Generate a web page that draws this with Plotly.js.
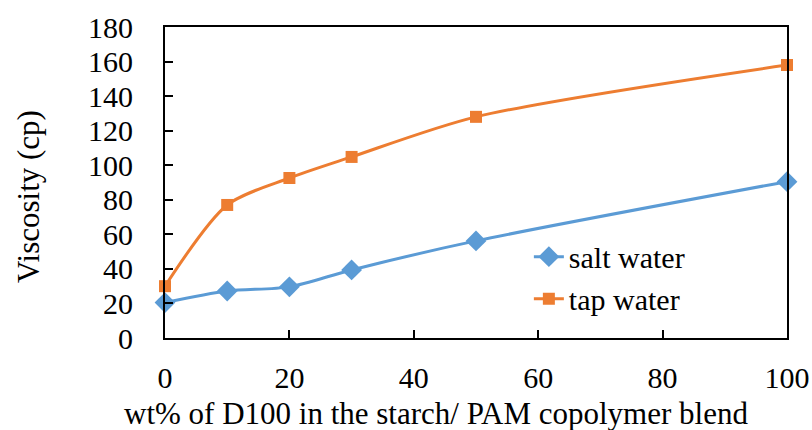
<!DOCTYPE html>
<html>
<head>
<meta charset="utf-8">
<script src="https://cdn.plot.ly/plotly-3.0.1.min.js"></script>
</head>
<body style="margin:0">
<div id="chart" style="width:812px;height:430px"></div>
<script>
const wtPercent = [0, 10, 20, 30, 50, 100];
const saltWater = [20.5, 27.2, 29.6, 39.4, 56.2, 90.5];
const tapWater = [30.0, 77.0, 92.6, 104.8, 128.0, 158.0];
const seriesNames = ["salt water", "tap water"];
const xTitle = "wt% of D100 in the starch/ PAM copolymer blend";
const yTitle = "Viscosity (cp)";

const traces = [
  {
    x: wtPercent, y: saltWater, name: seriesNames[0], type: "scatter", mode: "lines+markers",
    line: {color: "#5B9BD5", width: 3, shape: "spline", smoothing: 0.8},
    marker: {symbol: "diamond", size: 16, color: "#5B9BD5"},
    cliponaxis: false
  },
  {
    x: wtPercent, y: tapWater, name: seriesNames[1], type: "scatter", mode: "lines+markers",
    line: {color: "#ED7D31", width: 3, shape: "spline", smoothing: 0.8},
    marker: {symbol: "square", size: 12, color: "#ED7D31"},
    cliponaxis: false
  }
];

const layout = {
  width: 812, height: 430,
  margin: {l: 165, r: 25, t: 27, b: 92, pad: 0},
  font: {family: "Liberation Serif", size: 30, color: "#000000"},
  showlegend: true,
  legend: {x: 0.585, y: 0.345, xanchor: "left", yanchor: "top", bgcolor: "rgba(0,0,0,0)", tracegroupgap: 0},
  xaxis: {
    range: [0, 100], dtick: 20, tick0: 0, showgrid: false, zeroline: false,
    showline: true, linecolor: "#000000", linewidth: 2, mirror: true,
    ticks: "inside", ticklen: 8, tickwidth: 1.5, tickcolor: "#000000",
    ticklabelstandoff: 12
  },
  yaxis: {
    range: [0, 180], dtick: 20, tick0: 0, showgrid: false, zeroline: false,
    showline: true, linecolor: "#000000", linewidth: 2, mirror: true,
    ticks: "inside", ticklen: 8, tickwidth: 1.5, tickcolor: "#000000",
    ticklabelstandoff: 24
  },
  annotations: [
    {text: xTitle, xref: "paper", yref: "paper", x: (436 - 165) / 622, y: -(413 - 338) / 311,
     xanchor: "center", yanchor: "middle", showarrow: false, font: {size: 31}},
    {text: yTitle, xref: "paper", yref: "paper", x: -(165 - 28) / 622, y: (338 - 197) / 311,
     xanchor: "center", yanchor: "middle", showarrow: false, textangle: -90, font: {size: 31}}
  ]
};

Plotly.newPlot("chart", traces, layout, {displayModeBar: false});
</script>
</body>
</html>
